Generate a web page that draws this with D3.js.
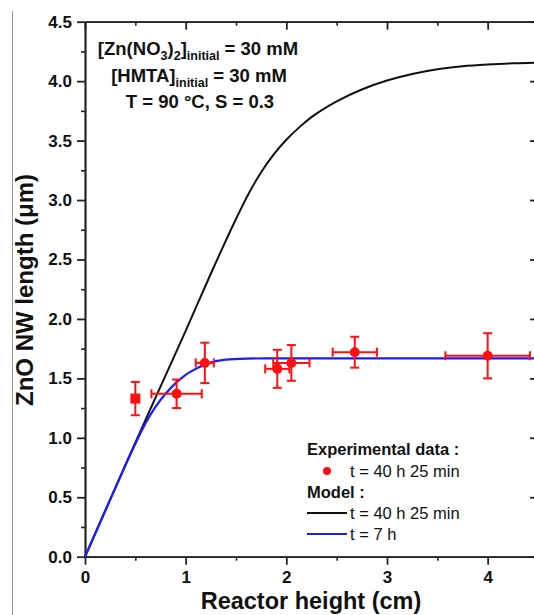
<!DOCTYPE html>
<html>
<head>
<meta charset="utf-8">
<script src="https://cdn.jsdelivr.net/npm/d3@7"></script>
<style>
  body { margin: 0; background: #fff; }
  svg { display: block; font-family: "Liberation Sans", Arial, sans-serif; }
  .axis path, .axis line { stroke: #222; }
  .axis text { font-size: 17px; font-weight: bold; fill: #111; }
</style>
</head>
<body>
<svg id="chart"></svg>
<script>
const width = 534;
const height = 615;

// Experimental data (t = 40 h 25 min)
const expX = [0.5, 0.91, 1.19, 1.91, 2.05, 2.68, 4.0];
const expY = [1.33, 1.37, 1.63, 1.58, 1.63, 1.72, 1.69];
const expXErr = [0, 0.25, 0.09, 0.12, 0.18, 0.22, 0.42];
const expYErr = [0.14, 0.12, 0.17, 0.16, 0.15, 0.13, 0.19];
const expShape = ['square', 'circle', 'circle', 'circle', 'circle', 'circle', 'circle'];

// Model, t = 40 h 25 min
const modelLongX = [0, 0.25, 0.5, 0.75, 1.0, 1.25, 1.5, 1.625, 1.75, 1.875, 2.0, 2.125, 2.25, 2.5, 2.75, 3.0, 3.25, 3.5, 3.75, 4.0, 4.25, 4.5];
const modelLongY = [0, 0.48, 0.96, 1.43, 1.9, 2.38, 2.84, 3.053, 3.234, 3.384, 3.507, 3.609, 3.697, 3.83, 3.93, 4.005, 4.06, 4.1, 4.125, 4.14, 4.15, 4.155];

// Model, t = 7 h
const modelShortX = [0, 0.25, 0.5, 0.6, 0.7, 0.8, 0.9, 1.0, 1.1, 1.2, 1.3, 1.4, 1.6, 1.8, 2.0, 2.5, 3.0, 3.5, 4.0, 4.5];
const modelShortY = [0, 0.48, 0.95, 1.12, 1.26, 1.37, 1.46, 1.53, 1.58, 1.62, 1.645, 1.658, 1.666, 1.668, 1.668, 1.668, 1.668, 1.668, 1.668, 1.668];

// Ticks
const yMajor = [0, 0.5, 1, 1.5, 2, 2.5, 3, 3.5, 4, 4.5];
const yMinor = [0.25, 0.75, 1.25, 1.75, 2.25, 2.75, 3.25, 3.75, 4.25];
const xMajor = [0, 1, 2, 3, 4];
const xMinor = [0.5, 1.5, 2.5, 3.5];

const svg = d3.select("#chart")
    .attr("width", width)
    .attr("height", height);

const x = d3.scaleLinear().domain([0, 4.5]).range([85, 538]);
const y = d3.scaleLinear().domain([0, 4.5]).range([556.7, 21.7]);

// page border on the left
svg.append("line")
    .attr("x1", 12.5).attr("x2", 12.5)
    .attr("y1", 11).attr("y2", height)
    .attr("stroke", "#999").attr("stroke-width", 1);

// axes
function addAxis(axis, tx, ty, width) {
    const g = svg.append("g")
        .attr("class", "axis")
        .attr("transform", `translate(${tx},${ty})`)
        .call(axis);
    g.selectAll("path, line").attr("stroke-width", width);
    return g;
}

addAxis(d3.axisLeft(y).tickValues(yMinor).tickFormat("").tickSize(4).tickSizeOuter(0), 85, 0, 1.6);
addAxis(d3.axisLeft(y).tickValues(yMajor).tickFormat(d3.format(".1f")).tickSize(8).tickPadding(5).tickSizeOuter(0), 85, 0, 1.8);
addAxis(d3.axisRight(y).tickValues(yMinor).tickFormat("").tickSize(-4).tickSizeOuter(0), 538, 0, 1.6);
addAxis(d3.axisRight(y).tickValues(yMajor).tickFormat("").tickSize(-8).tickSizeOuter(0), 538, 0, 1.8);
addAxis(d3.axisBottom(x).tickValues(xMinor).tickFormat("").tickSize(4).tickSizeOuter(0), 0, 556.7, 1.6);
addAxis(d3.axisBottom(x).tickValues(xMajor).tickFormat(d3.format("d")).tickSize(8).tickPadding(6).tickSizeOuter(0), 0, 556.7, 1.8);
addAxis(d3.axisTop(x).tickValues(xMinor).tickFormat("").tickSize(-4).tickSizeOuter(0), 0, 21.7, 1.6);
addAxis(d3.axisTop(x).tickValues(xMajor).tickFormat("").tickSize(-8).tickSizeOuter(0), 0, 21.7, 1.8);

// axis titles
svg.append("text")
    .attr("x", 311).attr("y", 609)
    .attr("text-anchor", "middle")
    .style("font-size", "23.5px").style("font-weight", "bold").style("fill", "#111")
    .text("Reactor height (cm)");

svg.append("text")
    .attr("transform", "translate(33,290) rotate(-90)")
    .attr("text-anchor", "middle")
    .style("font-size", "24px").style("font-weight", "bold").style("fill", "#111")
    .text("ZnO NW length (μm)");

// model curves
const line = (xs, ys) => d3.line()
    .x(i => x(xs[i]))
    .y(i => y(ys[i]))
    .curve(d3.curveMonotoneX)(d3.range(xs.length));

svg.append("path")
    .attr("d", line(modelLongX, modelLongY))
    .attr("fill", "none").attr("stroke", "#111").attr("stroke-width", 2);

svg.append("path")
    .attr("d", line(modelShortX, modelShortY))
    .attr("fill", "none").attr("stroke", "#1a1aff").attr("stroke-width", 2.2);

// experimental points with error bars
const red = "#ff1010";
const pts = svg.append("g");
expX.forEach((xv, i) => {
    const cx = x(xv), cy = y(expY[i]);
    const eg = pts.append("g").attr("stroke", red).attr("stroke-width", 2);
    // vertical bar
    eg.append("line").attr("x1", cx).attr("x2", cx)
        .attr("y1", y(expY[i] + expYErr[i])).attr("y2", y(expY[i] - expYErr[i]));
    [expY[i] + expYErr[i], expY[i] - expYErr[i]].forEach(v => {
        eg.append("line").attr("x1", cx - 4.5).attr("x2", cx + 4.5)
            .attr("y1", y(v)).attr("y2", y(v));
    });
    if (expXErr[i] > 0) {
        eg.append("line").attr("y1", cy).attr("y2", cy)
            .attr("x1", x(xv - expXErr[i])).attr("x2", x(xv + expXErr[i]));
        [xv - expXErr[i], xv + expXErr[i]].forEach(v => {
            eg.append("line").attr("y1", cy - 4.5).attr("y2", cy + 4.5)
                .attr("x1", x(v)).attr("x2", x(v));
        });
    }
    if (expShape[i] === 'square') {
        pts.append("rect")
            .attr("x", cx - 5).attr("y", cy - 5)
            .attr("width", 10).attr("height", 10)
            .attr("fill", red);
    } else {
        pts.append("circle")
            .attr("cx", cx).attr("cy", cy).attr("r", 5)
            .attr("fill", red);
    }
});

// conditions text
const notes = svg.append("g")
    .style("font-size", "18.5px").style("font-weight", "bold").style("fill", "#111");

const note1 = notes.append("text").attr("x", 198).attr("y", 55).attr("text-anchor", "middle");
note1.append("tspan").text("[Zn(NO");
note1.append("tspan").attr("dy", 5).style("font-size", "12.5px").text("3");
note1.append("tspan").attr("dy", -5).text(")");
note1.append("tspan").attr("dy", 5).style("font-size", "12.5px").text("2");
note1.append("tspan").attr("dy", -5).text("]");
note1.append("tspan").attr("dy", 5).style("font-size", "12.5px").text("initial");
note1.append("tspan").attr("dy", -5).text(" = 30 mM");

const note2 = notes.append("text").attr("x", 199).attr("y", 82).attr("text-anchor", "middle");
note2.append("tspan").text("[HMTA]");
note2.append("tspan").attr("dy", 5).style("font-size", "12.5px").text("initial");
note2.append("tspan").attr("dy", -5).text(" = 30 mM");

notes.append("text").attr("x", 200).attr("y", 108).attr("text-anchor", "middle")
    .text("T = 90 °C, S = 0.3");

// legend
const legend = svg.append("g").style("font-size", "16.5px").style("fill", "#111");
legend.append("text").attr("x", 307).attr("y", 455).style("font-weight", "bold").text("Experimental data :");
legend.append("circle").attr("cx", 327).attr("cy", 471).attr("r", 4).attr("fill", red);
legend.append("text").attr("x", 350).attr("y", 476.5).text("t = 40 h 25 min");
legend.append("text").attr("x", 307).attr("y", 498).style("font-weight", "bold").text("Model :");
legend.append("line").attr("x1", 307).attr("x2", 347).attr("y1", 513).attr("y2", 513)
    .attr("stroke", "#111").attr("stroke-width", 2);
legend.append("text").attr("x", 350).attr("y", 519).text("t = 40 h 25 min");
legend.append("line").attr("x1", 307).attr("x2", 347).attr("y1", 534).attr("y2", 534)
    .attr("stroke", "#1a1aff").attr("stroke-width", 2);
legend.append("text").attr("x", 350).attr("y", 540).text("t = 7 h");
</script>
</body>
</html>
